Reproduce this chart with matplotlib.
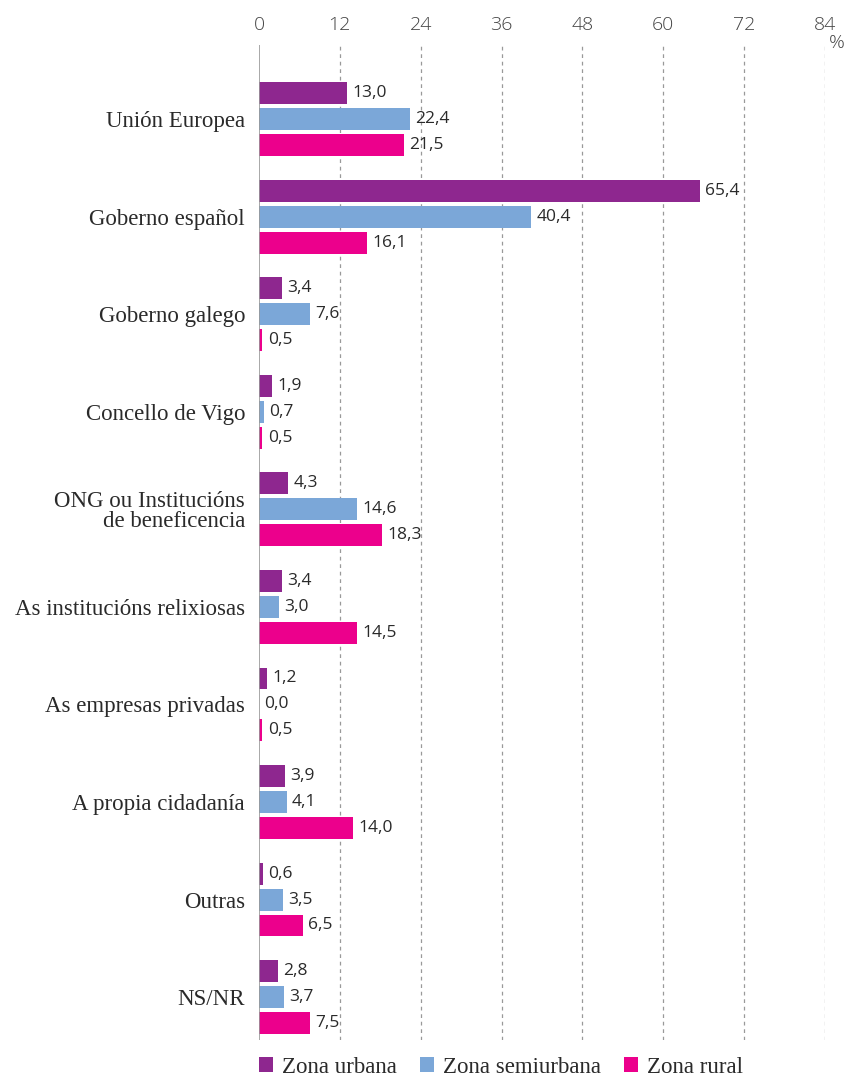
import numpy as np
import matplotlib.pyplot as plt

categories = ["Unión Europea", "Goberno español", "Goberno galego", "Concello de Vigo",
              "ONG ou Institucións\nde beneficencia", "As institucións relixiosas",
              "As empresas privadas", "A propia cidadanía", "Outras", "NS/NR"]
urbana = [13.0, 65.4, 3.4, 1.9, 4.3, 3.4, 1.2, 3.9, 0.6, 2.8]
semiurbana = [22.4, 40.4, 7.6, 0.7, 14.6, 3.0, 0.0, 4.1, 3.5, 3.7]
rural = [21.5, 16.1, 0.5, 0.5, 18.3, 14.5, 0.5, 14.0, 6.5, 7.5]
series = ["Zona urbana", "Zona semiurbana", "Zona rural"]
colors = ["#8e278f", "#7ba7d8", "#ec008c"]
ticks = [0, 12, 24, 36, 48, 60, 72, 84]

serif = "Liberation Serif"
sans = "Open Sans"

fig = plt.figure(figsize=(8.48, 10.82), dpi=100)
ax = fig.add_axes([259/848, 42/1082, 566/848, 995/1082])

y = np.arange(len(categories))
pitch = 0.266
h = 0.225
for i, (vals, c, name) in enumerate(zip([urbana, semiurbana, rural], colors, series)):
    pos = y + (i - 1) * pitch
    ax.barh(pos, vals, height=h, color=c, label=name, zorder=3)
    for p, v in zip(pos, vals):
        ax.text(v + 0.8, p, f"{v:.1f}".replace(".", ","), va="center", ha="left",
                fontsize=12.5, family=sans, color="#2a2a2a")

ax.set_xlim(0, 84)
ax.set_ylim(9.44, -0.76)
ax.set_yticks(y)
ax.set_yticklabels(categories, family=serif, fontsize=16.5, color="#2a2a2a", ha="right",
                   multialignment="right", linespacing=0.95)
ax.tick_params(axis="y", length=0, pad=10)
ax.xaxis.tick_top()
ax.set_xticks(ticks)
ax.set_xticklabels([str(t) for t in ticks], family=sans, fontsize=14, color="#444444",
                   fontweight="light")
ax.tick_params(axis="x", length=0, pad=8)
for t in ticks[1:]:
    ax.axvline(t, color="#999999", lw=0.9, ls=(0, (3, 3)), zorder=1)
ax.axvline(0, color="#999999", lw=1.2, zorder=4)
for s in ax.spines.values():
    s.set_visible(False)

fig.text(837/848, 1 - 43/1082, "%", family=sans, fontsize=14, color="#444444",
         ha="center", va="center", fontweight="light")

leg = fig.legend(loc="lower center", bbox_to_anchor=(501/848, -0.015), ncol=3, frameon=False,
                 prop={"family": serif, "size": 16.5}, handlelength=0.6, handleheight=0.6,
                 handletextpad=0.4, columnspacing=1.0)
for t in leg.get_texts():
    t.set_color("#2a2a2a")

fig.savefig("out.png", dpi=100)
